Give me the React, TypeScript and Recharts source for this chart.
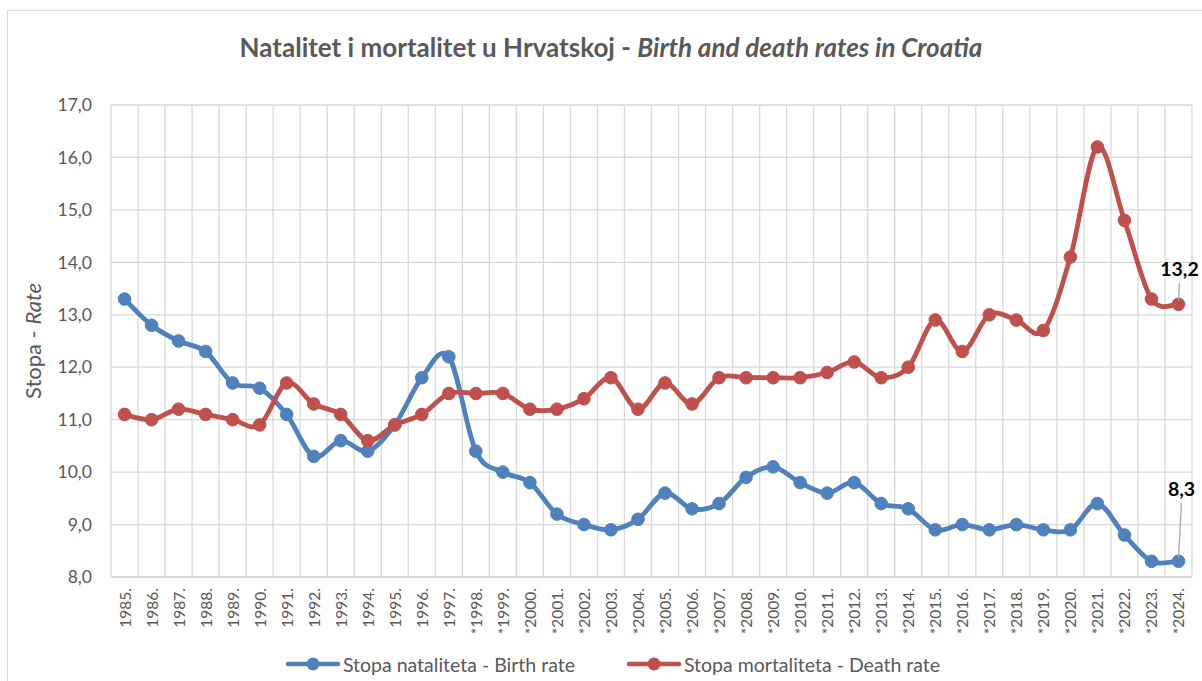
import React from 'react';
import {
  ComposedChart, Line, XAxis, YAxis, CartesianGrid, Legend, LabelList,
} from 'recharts';

const years = [
  '1985.', '1986.', '1987.', '1988.', '1989.', '1990.', '1991.', '1992.', '1993.', '1994.',
  '1995.', '1996.', '1997.', '*1998.', '*1999.', '*2000.', '*2001.', '*2002.', '*2003.', '*2004.',
  '*2005.', '*2006.', '*2007.', '*2008.', '*2009.', '*2010.', '*2011.', '*2012.', '*2013.', '*2014.',
  '*2015.', '*2016.', '*2017.', '*2018.', '*2019.', '*2020.', '*2021.', '*2022.', '*2023.', '*2024.',
];

const birthRate = [
  13.3, 12.8, 12.5, 12.3, 11.7, 11.6, 11.1, 10.3, 10.6, 10.4,
  10.9, 11.8, 12.2, 10.4, 10.0, 9.8, 9.2, 9.0, 8.9, 9.1,
  9.6, 9.3, 9.4, 9.9, 10.1, 9.8, 9.6, 9.8, 9.4, 9.3,
  8.9, 9.0, 8.9, 9.0, 8.9, 8.9, 9.4, 8.8, 8.3, 8.3,
];

const deathRate = [
  11.1, 11.0, 11.2, 11.1, 11.0, 10.9, 11.7, 11.3, 11.1, 10.6,
  10.9, 11.1, 11.5, 11.5, 11.5, 11.2, 11.2, 11.4, 11.8, 11.2,
  11.7, 11.3, 11.8, 11.8, 11.8, 11.8, 11.9, 12.1, 11.8, 12.0,
  12.9, 12.3, 13.0, 12.9, 12.7, 14.1, 16.2, 14.8, 13.3, 13.2,
];

const yTicks = [8, 9, 10, 11, 12, 13, 14, 15, 16, 17];
const minorTicks = Array.from({ length: 46 }, (_, i) => Math.round((8 + i * 0.2) * 10) / 10);

const seriesNames = {
  birth: 'Stopa nataliteta - Birth rate',
  death: 'Stopa mortaliteta - Death rate',
};

const BLUE = '#4f81bd';
const RED = '#c0504d';
const GRAY = '#595959';
const FONT = 'Lato, "Open Sans", sans-serif';

const data = years.map((year, i) => ({ year, birth: birthRate[i], death: deathRate[i] }));

// Excel-like smoothed line (Catmull-Rom as cubic Bezier)
const excelSmooth: any = (context: any) => {
  let pts: number[][] = [];
  return {
    areaStart() {},
    areaEnd() {},
    lineStart() { pts = []; },
    point(x: number, y: number) { pts.push([+x, +y]); },
    lineEnd() {
      if (!pts.length) return;
      context.moveTo(pts[0][0], pts[0][1]);
      for (let i = 0; i < pts.length - 1; i++) {
        const p0 = pts[i - 1] || pts[i];
        const p1 = pts[i];
        const p2 = pts[i + 1];
        const p3 = pts[i + 2] || pts[i + 1];
        context.bezierCurveTo(
          p1[0] + (p2[0] - p0[0]) / 6, p1[1] + (p2[1] - p0[1]) / 6,
          p2[0] - (p3[0] - p1[0]) / 6, p2[1] - (p3[1] - p1[1]) / 6,
          p2[0], p2[1],
        );
      }
    },
  };
};

const fmt = (v: number) => v.toFixed(1).replace('.', ',');

const XTick = (props: any) => {
  const { x, y, payload } = props;
  return (
    <text
      x={x}
      y={y}
      transform={`rotate(-90, ${x}, ${y})`}
      textAnchor="end"
      dominantBaseline="central"
      fontSize={15.5}
      fontFamily={FONT}
      fill={GRAY}
    >
      {payload.value}
    </text>
  );
};

const YLabel = () => {
  const cx = 32;
  const cy = 341;
  return (
    <text
      x={cx}
      y={cy}
      transform={`rotate(-90, ${cx}, ${cy})`}
      textAnchor="middle"
      dominantBaseline="central"
      fontSize={22}
      fontFamily={FONT}
      fill={GRAY}
    >
      <tspan>Stopa - </tspan>
      <tspan fontStyle="italic">Rate</tspan>
    </text>
  );
};

const makeEndLabel = (dx: number, dy: number, lineTop: number) => (props: any) => {
  const { x, y, value, index } = props;
  if (index !== years.length - 1) return null;
  return (
    <g>
      <line x1={x + dx} y1={y + lineTop} x2={x} y2={y - 3} stroke="#a6a6a6" strokeWidth={1.2} />
      <text
        x={x + dx}
        y={y + dy}
        textAnchor="middle"
        dominantBaseline="central"
        fontSize={19.5}
        fontWeight="bold"
        fontFamily={FONT}
        fill="#000"
      >
        {fmt(value)}
      </text>
    </g>
  );
};

const LegendIcon = ({ color }: { color: string }) => (
  <svg width={54} height={16} style={{ display: 'block' }}>
    <line x1={2} y1={8} x2={52} y2={8} stroke={color} strokeWidth={4.5} strokeLinecap="round" />
    <circle cx={27} cy={8} r={6.5} fill={color} />
  </svg>
);

const LegendContent = () => (
  <div
    style={{
      display: 'flex',
      justifyContent: 'center',
      alignItems: 'center',
      height: 34,
      paddingLeft: 34,
      fontFamily: FONT,
      fontSize: 19.5,
      color: GRAY,
    }}
  >
    <div style={{ display: 'flex', alignItems: 'center', marginRight: 52 }}>
      <LegendIcon color={BLUE} />
      <span style={{ marginLeft: 3 }}>{seriesNames.birth}</span>
    </div>
    <div style={{ display: 'flex', alignItems: 'center' }}>
      <LegendIcon color={RED} />
      <span style={{ marginLeft: 3 }}>{seriesNames.death}</span>
    </div>
  </div>
);

const verticalBoundaries = ({ offset }: any) =>
  Array.from({ length: years.length + 1 }, (_, i) => offset.left + (i * offset.width) / years.length);

export default function App() {
  return (
    <div style={{ position: 'absolute', left: 0, top: 0, width: 1202, height: 681, background: '#fff', overflow: 'hidden' }}>
      <div
        style={{
          position: 'absolute', left: 7, top: 10, width: 1210, height: 690,
          border: '1px solid #d9d9d9', boxSizing: 'border-box',
        }}
      />
      <div
        style={{
          position: 'absolute', left: 0, top: 31, width: 1222, textAlign: 'center',
          fontFamily: FONT, fontSize: 26, fontWeight: 'bold', color: GRAY, lineHeight: '32px',
        }}
      >
        Natalitet i mortalitet u Hrvatskoj - <i>Birth and death rates in Croatia</i>
      </div>
      <div style={{ position: 'absolute', left: 0, top: 0 }}>
        <ComposedChart
          width={1202}
          height={681}
          data={data}
          margin={{ top: 105, right: 10, bottom: 0, left: 0 }}
        >
          <CartesianGrid
            yAxisId="minor"
            horizontal
            vertical={false}
            stroke="#f0f0f0"
            strokeWidth={1}
          />
          <CartesianGrid
            yAxisId="main"
            stroke="#d9d9d9"
            strokeWidth={1.3}
            verticalCoordinatesGenerator={verticalBoundaries}
          />
          <XAxis
            dataKey="year"
            scale="band"
            interval={0}
            height={70}
            tickSize={0}
            tickMargin={11}
            axisLine={{ stroke: '#d9d9d9', strokeWidth: 1.3 }}
            tickLine={false}
            tick={<XTick />}
          />
          <YAxis
            yAxisId="main"
            width={111}
            domain={[8, 17]}
            ticks={yTicks}
            tickFormatter={fmt}
            tickSize={0}
            tickMargin={19}
            axisLine={false}
            tickLine={false}
            tick={{ fontSize: 17.5, fill: GRAY, fontFamily: FONT }}
            label={<YLabel />}
          />
          <YAxis yAxisId="minor" hide domain={[8, 17]} ticks={minorTicks} />
          <Legend verticalAlign="bottom" content={<LegendContent />} />
          <Line
            yAxisId="main"
            dataKey="birth"
            name={seriesNames.birth}
            type={excelSmooth}
            stroke={BLUE}
            strokeWidth={4.8}
            dot={{ r: 6.3, fill: BLUE, stroke: BLUE, strokeWidth: 1 }}
            activeDot={false}
            isAnimationActive={false}
          >
            <LabelList dataKey="birth" content={makeEndLabel(3, -73, -58)} />
          </Line>
          <Line
            yAxisId="main"
            dataKey="death"
            name={seriesNames.death}
            type={excelSmooth}
            stroke={RED}
            strokeWidth={4.8}
            dot={{ r: 6.3, fill: RED, stroke: RED, strokeWidth: 1 }}
            activeDot={false}
            isAnimationActive={false}
          >
            <LabelList dataKey="death" content={makeEndLabel(1, -36, -22)} />
          </Line>
        </ComposedChart>
      </div>
    </div>
  );
}
